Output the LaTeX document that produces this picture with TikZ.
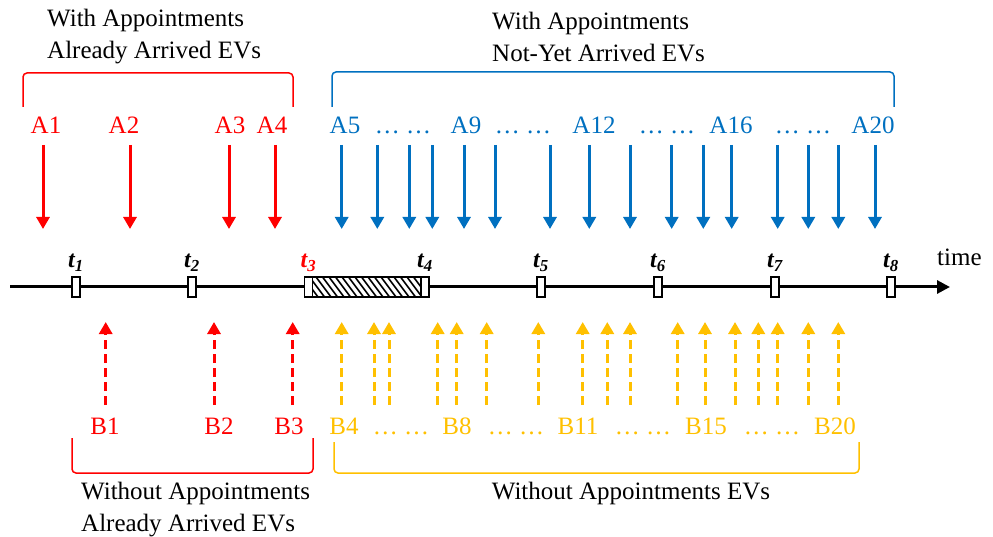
\documentclass[tikz,border=0pt]{standalone}
\usepackage{fontspec}
\setmainfont{Liberation Serif}
\usetikzlibrary{arrows.meta}
\definecolor{evred}{HTML}{FF0000}
\definecolor{evblue}{HTML}{0070C0}
\definecolor{evyellow}{HTML}{FFC000}
\begin{document}
\begin{tikzpicture}[x=1pt,y=-1pt,
  txt/.style={font=\fontsize{25}{32}\selectfont, inner sep=0pt},
  caption/.style={txt, align=left, anchor=west},
  lbl/.style={txt, anchor=base},
  downarr/.style={line width=3pt, -{Triangle[length=12pt,width=13pt]}},
  uparr/.style={line width=3pt, dash pattern=on 9pt off 5pt, -{Triangle[length=12pt,width=13pt]}},
  bracket/.style={line width=1.5pt, rounded corners=4pt},
  tick/.style={draw, fill=white, line width=1.4pt, minimum width=8pt, minimum height=20pt, inner sep=0pt},
  tlabel/.style={font=\fontsize{24}{26}\selectfont\bfseries\itshape, inner sep=0pt, anchor=base},
  axis/.style={line width=3pt, -{Triangle[length=13pt,width=13pt]}},
  hatchline/.style={line width=1.6pt}
]
\useasboundingbox (0,0) rectangle (993,537);

% ---- group captions ----
\node[caption] (capAA) at (47,37) {With Appointments\\Already Arrived EVs};
\node[caption] (capAN) at (492,37) {With Appointments\\Not-Yet Arrived EVs};
\node[caption] (capBA) at (81,510) {Without Appointments\\Already Arrived EVs};
\node[txt] (capBN) at (631,493) {Without Appointments EVs};

% ---- brackets ----
\coordinate (brA1) at (23,107); \coordinate (brA2) at (293,107);
\draw[bracket, evred] (brA1) |- (158,73) -| (brA2);
\coordinate (brN1) at (332,107); \coordinate (brN2) at (894,107);
\draw[bracket, evblue] (brN1) |- (613,72) -| (brN2);
\coordinate (brB1) at (72,438); \coordinate (brB2) at (313,438);
\draw[bracket, evred] (brB1) |- (192,473) -| (brB2);
\coordinate (brW1) at (334,442); \coordinate (brW2) at (859,442);
\draw[bracket, evyellow] (brW1) |- (596,473) -| (brW2);

% ---- appointment labels (common baseline) ----
\node[lbl, evred] (A1) at (46,133.5) {A1};
\node[lbl, evred] (A2) at (124,133.5) {A2};
\node[lbl, evred] (A3) at (230,133.5) {A3};
\node[lbl, evred] (A4) at (272,133.5) {A4};
\node[lbl, evblue] (A5) at (345,133.5) {A5};
\node[lbl, evblue] (dA1) at (403,133.5) {… …};
\node[lbl, evblue] (A9) at (466,133.5) {A9};
\node[lbl, evblue] (dA2) at (523,133.5) {… …};
\node[lbl, evblue] (A12) at (594,133.5) {A12};
\node[lbl, evblue] (dA3) at (667,133.5) {… …};
\node[lbl, evblue] (A16) at (731,133.5) {A16};
\node[lbl, evblue] (dA4) at (803,133.5) {… …};
\node[lbl, evblue] (A20) at (873,133.5) {A20};

% ---- appointment arrivals (solid, downwards) ----
\foreach \x [count=\i] in {43,130,229,275} {
  \coordinate (rs\i) at (\x,145); \coordinate (re\i) at (\x,229);
  \draw[downarr, evred] (rs\i) -- (re\i);
}
\foreach \x [count=\i] in {341.7,377.3,409.3,432.3,464,495,550,589.3,630,671.7,703.3,731.7,777.7,808.3,838.3,875} {
  \coordinate (bs\i) at (\x,145); \coordinate (be\i) at (\x,229);
  \draw[downarr, evblue] (bs\i) -- (be\i);
}

% ---- time axis ----
\coordinate (ax0) at (10,287); \coordinate (ax1) at (950,287);
\draw[axis] (ax0) -- (ax1);
\node[txt, anchor=base west] (timelbl) at (937,266) {time};

% busy interval between t3 and t4, hatched
\fill[white] (308,277) rectangle (425,297);
\begin{scope}
  \clip (308,277) rectangle (425,297);
  \foreach \x in {290,296.5,...,430} {
    \draw[hatchline] (\x,277) -- (\x+15,297);
  }
\end{scope}
\draw[line width=1.4pt] (308,277) rectangle (425,297);

\foreach \x [count=\i] in {76,192,308.5,425,541,658,775,891} {
  \node[tick] (t\i) at (\x,287) {};
}
\foreach \i in {1,2,4,5,6,7,8} {
  \node[tlabel] (tl\i) at ([yshift=19pt]t\i.center) {t\textsubscript{\i}};
}
\node[tlabel, evred] (tl3) at ([yshift=19pt]t3.center) {t\textsubscript{3}};

% ---- walk-in arrivals (dashed, upwards) ----
\foreach \x [count=\i] in {105.7,214,292.7} {
  \coordinate (ws\i) at (\x,405); \coordinate (we\i) at (\x,322);
  \draw[uparr, evred] (ws\i) -- (we\i);
}
\foreach \x [count=\i] in {341.7,374,389,437.7,456.7,486.7,538.3,582.7,607.3,630,677.7,705,735,758.3,777.7,808.3,838.3} {
  \coordinate (ys\i) at (\x,405); \coordinate (ye\i) at (\x,322);
  \draw[uparr, evyellow] (ys\i) -- (ye\i);
}

% ---- walk-in labels (common baseline) ----
\node[lbl, evred] (B1) at (105,434.5) {B1};
\node[lbl, evred] (B2) at (219,434.5) {B2};
\node[lbl, evred] (B3) at (289,434.5) {B3};
\node[lbl, evyellow] (B4) at (344,434.5) {B4};
\node[lbl, evyellow] (dB1) at (401,434.5) {… …};
\node[lbl, evyellow] (B8) at (457,434.5) {B8};
\node[lbl, evyellow] (dB2) at (516,434.5) {… …};
\node[lbl, evyellow] (B11) at (578,434.5) {B11};
\node[lbl, evyellow] (dB3) at (643,434.5) {… …};
\node[lbl, evyellow] (B15) at (706,434.5) {B15};
\node[lbl, evyellow] (dB4) at (772,434.5) {… …};
\node[lbl, evyellow] (B20) at (835,434.5) {B20};
\end{tikzpicture}
\end{document}
